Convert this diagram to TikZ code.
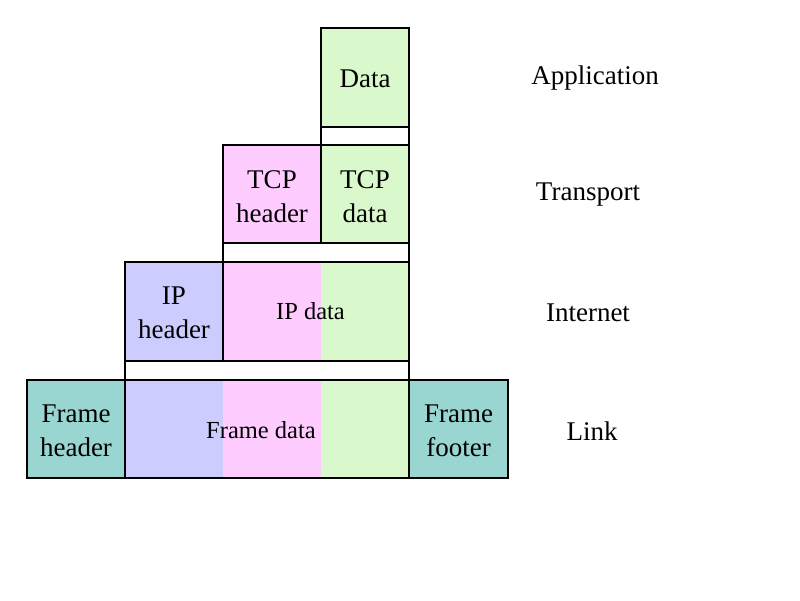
\documentclass[tikz,border=0pt]{standalone}
\usepackage{fontspec}
\setmainfont{Liberation Serif}
\definecolor{cgreen}{HTML}{D9F8CC}
\definecolor{cpink}{HTML}{FFCCFF}
\definecolor{cblue}{HTML}{CCCCFF}
\definecolor{cteal}{HTML}{99D6D2}
\begin{document}
\begin{tikzpicture}[x=1pt,y=-1pt,
  box/.style={draw=black, line width=1.6pt, inner sep=0pt, outer sep=0pt,
    minimum height=98pt},
  link/.style={draw=black, line width=1.6pt, fill=white},
  txt/.style={inner sep=0pt, align=center, font=\fontsize{27}{34}\selectfont},
  dlbl/.style={inner sep=0pt, font=\fontsize{24.5}{30}\selectfont}]
\useasboundingbox (0,0) rectangle (800,600);
% connectors between layers (behind)
\path[link] (321,126) rectangle (409,146);
\path[link] (223,242) rectangle (409,263);
\path[link] (125,360) rectangle (409,381);
% Application
\node[box, fill=cgreen, minimum width=88pt, minimum height=99pt] (data) at (365,77.5) {};
% Transport
\node[box, fill=cpink, minimum width=98pt] (tcph) at (272,194) {};
\node[box, fill=cgreen, minimum width=88pt] (tcpd) at (365,194) {};
% Internet
\node[box, fill=cblue, minimum width=98pt, minimum height=99pt] (iph) at (174,311.5) {};
\fill[cpink] (223,262) rectangle (321,361);
\fill[cgreen] (321,262) rectangle (409,361);
\node[box, minimum width=186pt, minimum height=99pt] (ipd) at (316,311.5) {};
% Link
\node[box, fill=cteal, minimum width=98pt] (fh) at (76,429) {};
\fill[cblue] (125,380) rectangle (223,478);
\fill[cpink] (223,380) rectangle (321,478);
\fill[cgreen] (321,380) rectangle (409,478);
\node[box, minimum width=284pt] (fd) at (267,429) {};
\node[box, fill=cteal, minimum width=99pt] (ff) at (458.5,429) {};
% connector outlines
\draw[line width=1.6pt] (data.south west) rectangle (tcpd.north east);
\draw[line width=1.6pt] (tcph.south west) rectangle (ipd.north east);
\draw[line width=1.6pt] (iph.south west) rectangle (fd.north east);
% texts
\node[txt] (datat) at (365,78.5) {Data};
\node[txt] (tcpht) at (272,197) {TCP\\header};
\node[txt] (tcpdt) at (365,197) {TCP\\data};
\node[txt] (ipht) at (174,312.5) {IP\\header};
\node[dlbl] (ipdt) at (310.5,311.5) {IP data};
\node[txt] (fht) at (76,431) {Frame\\header};
\node[dlbl] (fdt) at (261,430) {Frame data};
\node[txt] (fft) at (458.5,431) {Frame\\footer};
% layer names
\node[txt] (app) at (595,78) {Application};
\node[txt] (tra) at (588,195) {Transport};
\node[txt] (int) at (588,313) {Internet};
\node[txt] (lnk) at (592,431) {Link};
\end{tikzpicture}
\end{document}
